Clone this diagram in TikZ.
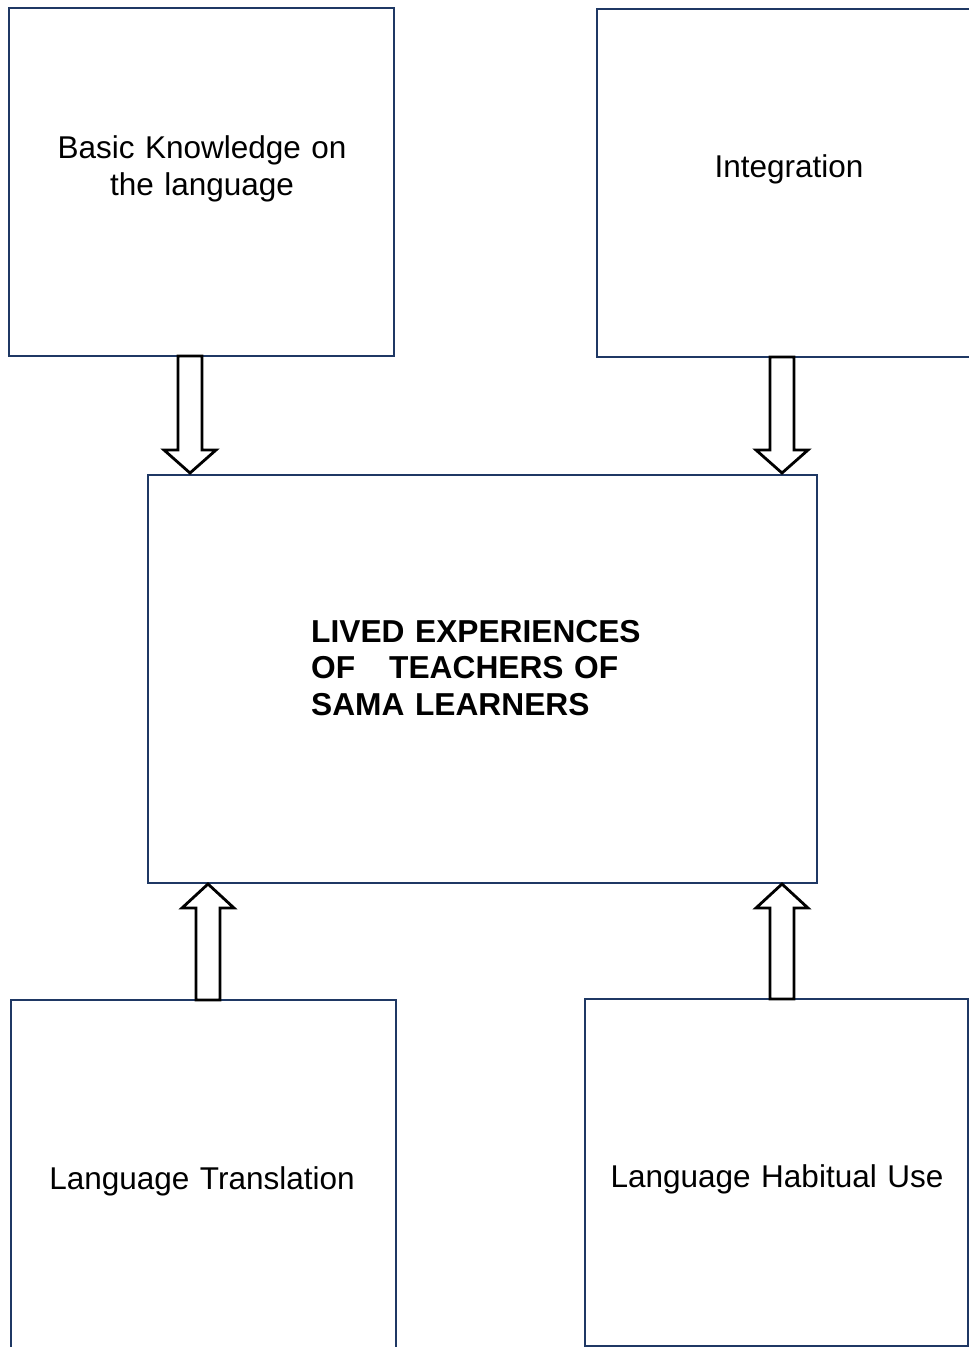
\documentclass[tikz,border=0pt]{standalone}
\usepackage{fontspec}
\setmainfont{Liberation Sans}
\usetikzlibrary{calc}
\definecolor{boxnavy}{RGB}{31,56,100}
\begin{document}
\begin{tikzpicture}[x=1pt,y=-1pt,
  box/.style={draw=boxnavy, line width=2.6pt, rectangle, inner sep=0pt, outer sep=0pt, anchor=north west},
  lbl/.style={inner sep=0pt, font=\fontsize{31.5}{37}\selectfont, text width=360pt, align=center, anchor=base},
  blk/.style={draw=black, fill=white, line width=2.8pt, line join=miter},
]
\useasboundingbox (0,0) rectangle (969,1347);
% boxes
\node[box, minimum width=385pt, minimum height=348pt] (kb) at (9,8) {};
\node[box, minimum width=390pt, minimum height=348pt] (integ) at (597,9) {};
\node[box, minimum width=669pt, minimum height=408pt] (main) at (148,475) {};
\node[box, minimum width=385pt, minimum height=370pt] (trans) at (11,1000) {};
\node[box, minimum width=383pt, minimum height=347pt] (habit) at (585,999) {};
% texts
\node[lbl] (tkb) at (202,158) {Basic Knowledge on\\the language};
\node[lbl] (tinteg) at (789,177) {Integration};
\node[lbl, font=\fontsize{31.7}{36.5}\selectfont\bfseries, align=left, anchor=base west] (tmain) at (311,642)
  {LIVED EXPERIENCES\\OF\hspace{34pt}TEACHERS OF\\SAMA LEARNERS};
\node[lbl] (ttrans) at (202,1189) {Language Translation};
\node[lbl] (thabit) at (777,1187) {Language Habitual Use};
% arrow end points
\coordinate (a1s) at (190,0 |- kb.south);
\coordinate (a1e) at (190,0 |- main.north);
\coordinate (a2s) at (782,0 |- integ.south);
\coordinate (a2e) at (782,0 |- main.north);
\coordinate (a3s) at (208,0 |- trans.north);
\coordinate (a3e) at (208,0 |- main.south);
\coordinate (a4s) at (782,0 |- habit.north);
\coordinate (a4e) at (782,0 |- main.south);
% block arrows (down)
\draw[blk] ($(a1s)+(-12,0)$) -- ($(a1e)+(-12,-25)$) -- ($(a1e)+(-26,-25)$) -- ($(a1e)+(0,-2)$)
  -- ($(a1e)+(26,-25)$) -- ($(a1e)+(12,-25)$) -- ($(a1s)+(12,0)$) -- cycle;
\draw[blk] ($(a2s)+(-12,0)$) -- ($(a2e)+(-12,-25)$) -- ($(a2e)+(-26,-25)$) -- ($(a2e)+(0,-2)$)
  -- ($(a2e)+(26,-25)$) -- ($(a2e)+(12,-25)$) -- ($(a2s)+(12,0)$) -- cycle;
% block arrows (up)
\draw[blk] ($(a3s)+(-12,0)$) -- ($(a3e)+(-12,25)$) -- ($(a3e)+(-26,25)$) -- ($(a3e)+(0,1)$)
  -- ($(a3e)+(26,25)$) -- ($(a3e)+(12,25)$) -- ($(a3s)+(12,0)$) -- cycle;
\draw[blk] ($(a4s)+(-12,0)$) -- ($(a4e)+(-12,25)$) -- ($(a4e)+(-26,25)$) -- ($(a4e)+(0,1)$)
  -- ($(a4e)+(26,25)$) -- ($(a4e)+(12,25)$) -- ($(a4s)+(12,0)$) -- cycle;
\end{tikzpicture}
\end{document}
